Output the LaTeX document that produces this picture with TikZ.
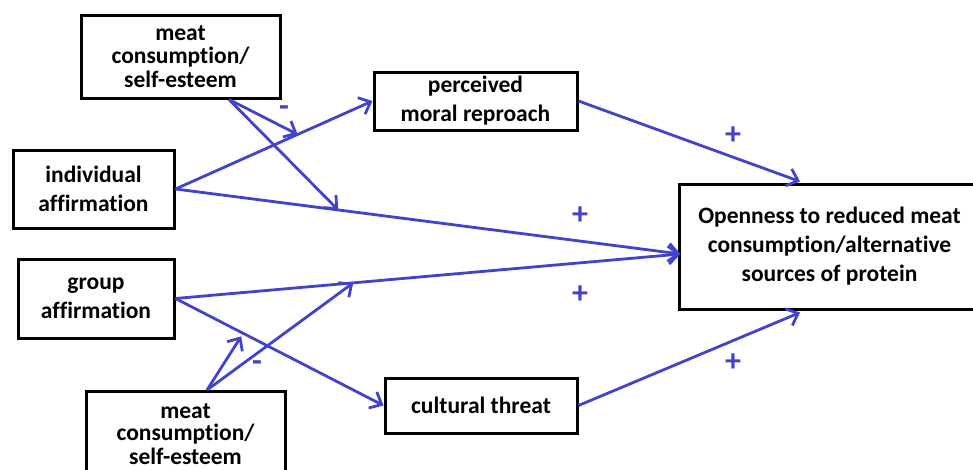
\documentclass[tikz,border=0pt]{standalone}
\usepackage{fontspec}
\setmainfont[Ligatures={NoCommon}]{Carlito}
\usetikzlibrary{arrows.meta,calc}
\definecolor{arrowblue}{RGB}{66,66,204}
\begin{document}
\begin{tikzpicture}[x=1pt,y=-1pt,
  box/.style={draw=black,line width=3pt,inner sep=0pt,align=center,
    font=\fontsize{23.5}{29}\selectfont\bfseries},
  conn/.style={draw=arrowblue,line width=2.8pt,
    -{Straight Barb[length=10pt,width=18pt,line width=2.8pt]}},
  sign/.style={text=arrowblue,font=\fontsize{32}{32}\selectfont\bfseries,inner sep=0pt}]
\useasboundingbox (0,0) rectangle (973,469);
% boxes
\node[box,minimum width=199,minimum height=83] (mt) at (180.5,56.5)
  {meat\\[-6pt]consumption/\\[-5pt]self-esteem};
\node[box,minimum width=161,minimum height=78] (ind) at (93.5,189)
  {individual\\affirmation};
\node[box,minimum width=156,minimum height=79] (grp) at (96,298.5)
  {group\\affirmation};
\node[box,minimum width=199,minimum height=86,anchor=north,inner ysep=3pt] (mb) at (185.5,390)
  {meat\\[-7pt]consumption/\\[-5pt]self-esteem};
\node[box,minimum width=203,minimum height=58] (perc) at (475.5,101)
  {perceived\\moral reproach};
\node[box,minimum width=192,minimum height=55] (cult) at (481,405.5)
  {cultural threat};
\node[box,minimum width=301,minimum height=125] (open) at (829.5,246.5)
  {Openness to reduced meat\\consumption/alternative\\sources of protein};
% connector end points
\coordinate (mtS) at ($(mt.south)+(48.5,0)$);
\coordinate (mbS) at ($(mb.north)+(21.5,0)$);
\coordinate (openW) at ($(open.west)+(3,7.5)$);
\coordinate (openN) at ($(open.north)+(-29.5,-1)$);
\coordinate (openS) at ($(open.south)+(-29.5,2)$);
\coordinate (c1) at ($(ind.east)!0.62!(perc.west)$);
\coordinate (c2) at ($(ind.east)!0.322!(openW)$);
\coordinate (c3) at ($(grp.east)!0.316!(cult.west)+(0,4)$);
\coordinate (c4) at ($(grp.east)!0.352!(openW)$);
% connectors
\draw[conn] (ind.east) -- (perc.west);
\draw[conn] (ind.east) -- (openW);
\draw[conn] (grp.east) -- (openW);
\draw[conn] (grp.east) -- (cult.west);
\draw[conn] (perc.east) -- (openN);
\draw[conn] (cult.east) -- (openS);
\draw[conn] (mtS) -- (c1);
\draw[conn] (mtS) -- (c2);
\draw[conn] (mbS) -- (c3);
\draw[conn] (mbS) -- (c4);
% signs
\node[sign] (s1) at (284,111) {-};
\node[sign] (s2) at (257,366) {-};
\node[sign] (s3) at (733,136) {+};
\node[sign] (s4) at (580,216) {+};
\node[sign] (s5) at (580,295) {+};
\node[sign] (s6) at (733,363) {+};
\end{tikzpicture}
\end{document}
